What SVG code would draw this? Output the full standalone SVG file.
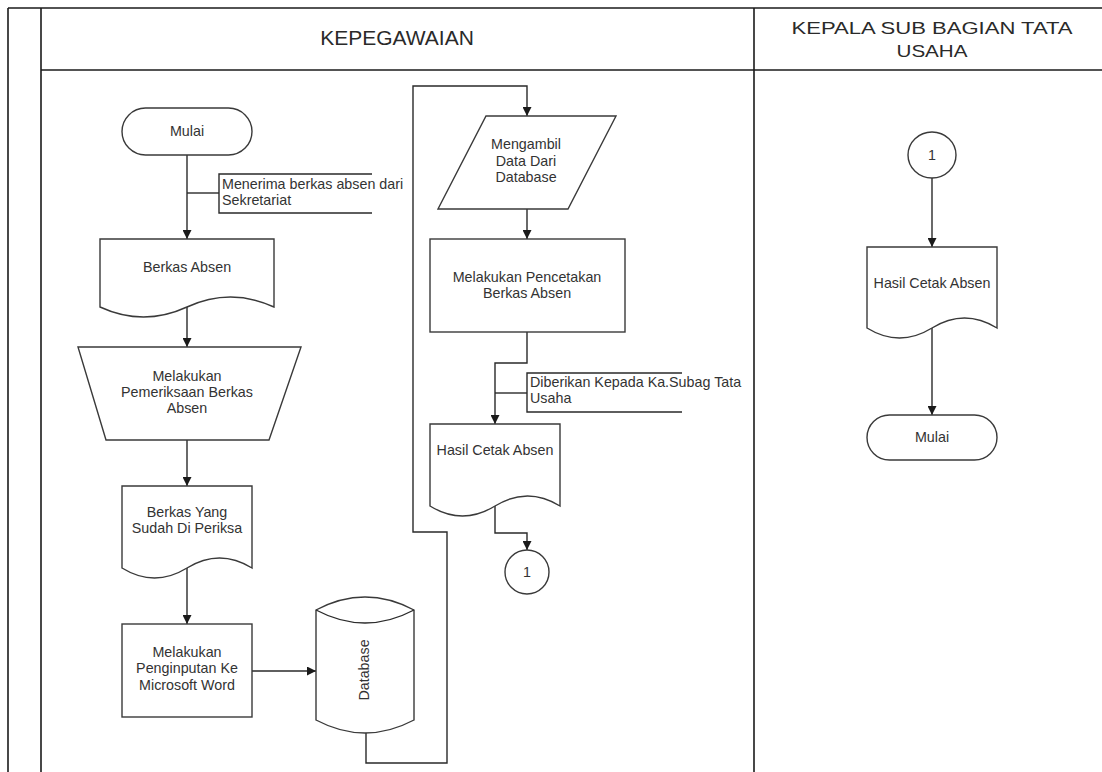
<svg xmlns="http://www.w3.org/2000/svg" width="1102" height="772" viewBox="0 0 1102 772">
<defs>
<marker id="arr" markerWidth="9" markerHeight="9" refX="9" refY="4.5" orient="auto" markerUnits="userSpaceOnUse">
<path d="M0,0 L9,4.5 L0,9 z" fill="#1a1a1a"/>
</marker>
</defs>
<style>
.frame{fill:none;stroke:#1a1a1a;stroke-width:1.6}
.shape{fill:#fff;stroke:#3a3a3a;stroke-width:1.4}
.line{fill:none;stroke:#2a2a2a;stroke-width:1.4}
.conn{fill:none;stroke:#2a2a2a;stroke-width:1.4;marker-end:url(#arr)}
.t{font-family:"Liberation Sans",Arial,sans-serif;font-size:14.3px;fill:#333;text-anchor:middle}
.ta{font-family:"Liberation Sans",Arial,sans-serif;font-size:14.3px;fill:#333}
.h{font-family:"Liberation Sans",Arial,sans-serif;fill:#2a2a2a;text-anchor:middle}
</style>
<rect width="1102" height="772" fill="#fff"/>
<g id="frame">
<line class="frame" x1="8" y1="8" x2="1102" y2="8"/>
<line class="frame" x1="8" y1="8" x2="8" y2="772"/>
<line class="frame" x1="41" y1="8" x2="41" y2="772"/>
<line class="frame" x1="41" y1="70" x2="1102" y2="70"/>
<line class="frame" x1="754" y1="8" x2="754" y2="772"/>
<text class="h" x="397" y="45" font-size="21">KEPEGAWAIAN</text>
<text class="h" x="932" y="34" font-size="17" textLength="281" lengthAdjust="spacingAndGlyphs">KEPALA SUB BAGIAN TATA</text>
<text class="h" x="932" y="57" font-size="17" textLength="71" lengthAdjust="spacingAndGlyphs">USAHA</text>
</g>
<g id="connectors">
<line class="conn" x1="187" y1="155" x2="187" y2="239"/>
<line class="line" x1="187" y1="193" x2="219" y2="193"/>
<polyline class="line" points="372,174 219,174 219,213 372,213"/>
<text class="ta" x="222" y="189">Menerima berkas absen dari</text>
<text class="ta" x="222" y="205">Sekretariat</text>
<line class="conn" x1="187" y1="307" x2="187" y2="347"/>
<line class="conn" x1="187" y1="440" x2="187" y2="486"/>
<line class="conn" x1="187" y1="568" x2="187" y2="624"/>
<line class="conn" x1="252" y1="671" x2="316" y2="671"/>
<polyline class="conn" points="366,733 366,763 447,763 447,532 413,532 413,86 527,86 527,116"/>
<line class="conn" x1="527" y1="209" x2="527" y2="239"/>
<polyline class="conn" points="527,332 527,363 495,363 495,424"/>
<line class="line" x1="495" y1="393" x2="527" y2="393"/>
<polyline class="line" points="682,373 527,373 527,412 682,412"/>
<text class="ta" x="530" y="387">Diberikan Kepada Ka.Subag Tata</text>
<text class="ta" x="530" y="403">Usaha</text>
<polyline class="conn" points="495,506 495,533 527,533 527,550"/>
<line class="conn" x1="932" y1="178" x2="932" y2="247"/>
<line class="conn" x1="932" y1="328" x2="932" y2="415"/>
</g>
<g id="mulai1">
<rect class="shape" x="122" y="108" width="130" height="47" rx="23.5"/>
<text class="t" x="187" y="136">Mulai</text>
</g>
<g id="berkasAbsen">
<path class="shape" d="M100,307 V239 H274 V307 Q230.5,287 187,307 T100,307 Z"/>
<text class="t" x="187" y="272">Berkas Absen</text>
</g>
<g id="pemeriksaan">
<path class="shape" d="M78,347 H301 L269,440 H106 Z"/>
<text class="t" x="187" y="381">Melakukan</text>
<text class="t" x="187" y="397">Pemeriksaan Berkas</text>
<text class="t" x="187" y="413">Absen</text>
</g>
<g id="berkasDiperiksa">
<path class="shape" d="M122,568 V486 H252 V568 Q219.5,548 187,568 T122,568 Z"/>
<text class="t" x="187" y="517">Berkas Yang</text>
<text class="t" x="187" y="533">Sudah Di Periksa</text>
</g>
<g id="penginputan">
<rect class="shape" x="122" y="624" width="130" height="93"/>
<text class="t" x="187" y="657">Melakukan</text>
<text class="t" x="187" y="673">Penginputan Ke</text>
<text class="t" x="187" y="690">Microsoft Word</text>
</g>
<g id="database">
<path class="shape" d="M316,610 Q365,584 414,610 V720 Q365,746 316,720 Z"/>
<path class="line" d="M316,610 Q365,636 414,610"/>
<text class="t" transform="translate(369,670) rotate(-90)" x="0" y="0">Database</text>
</g>
<g id="mengambil">
<path class="shape" d="M486,116 H616 L568,209 H438 Z"/>
<text class="t" x="526" y="149">Mengambil</text>
<text class="t" x="526" y="166">Data Dari</text>
<text class="t" x="526" y="182">Database</text>
</g>
<g id="pencetakan">
<rect class="shape" x="430" y="239" width="195" height="93"/>
<text class="t" x="527" y="282">Melakukan Pencetakan</text>
<text class="t" x="527" y="298">Berkas Absen</text>
</g>
<g id="hasilCetak1">
<path class="shape" d="M430,506 V424 H560 V506 Q527.5,486 495,506 T430,506 Z"/>
<text class="t" x="495" y="455">Hasil Cetak Absen</text>
</g>
<g id="connector1a">
<circle class="shape" cx="527" cy="572" r="22"/>
<text class="t" x="527" y="577" font-size="12">1</text>
</g>
<g id="connector1b">
<ellipse class="shape" cx="932" cy="155" rx="24" ry="23"/>
<text class="t" x="932" y="160" font-size="12">1</text>
</g>
<g id="hasilCetak2">
<path class="shape" d="M867,328 V247 H997 V328 Q964.5,308 932,328 T867,328 Z"/>
<text class="t" x="932" y="288">Hasil Cetak Absen</text>
</g>
<g id="mulai2">
<rect class="shape" x="867" y="415" width="130" height="45" rx="22.5"/>
<text class="t" x="932" y="442">Mulai</text>
</g>
</svg>
